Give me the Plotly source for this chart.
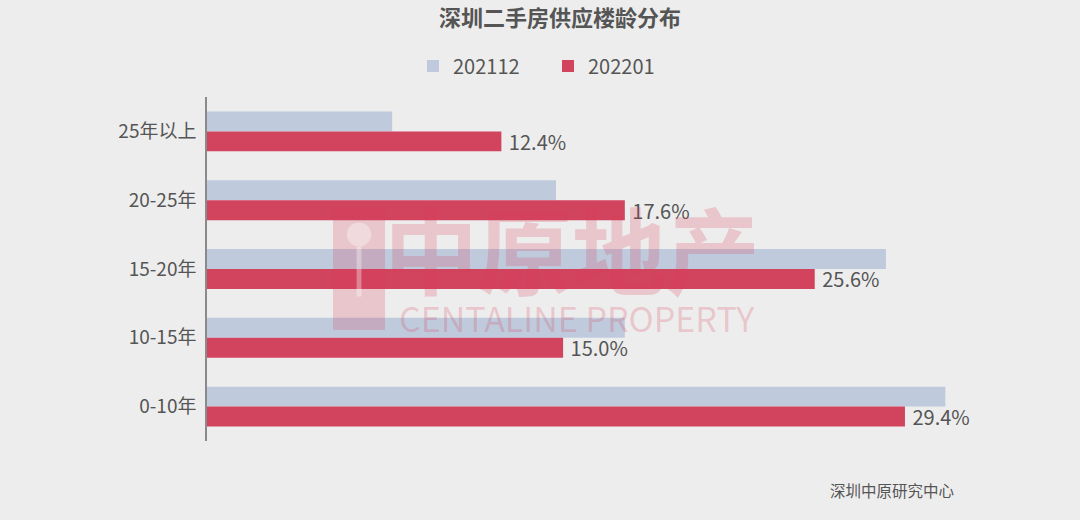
import plotly.graph_objects as go

categories = ["25年以上", "20-25年", "15-20年", "10-15年", "0-10年"]
series_names = ["202112", "202201"]
values_202112 = [7.8, 14.7, 28.6, 17.6, 31.1]
values_202201 = [12.4, 17.6, 25.6, 15.0, 29.4]

FONT = "Noto Sans CJK SC, Noto Sans, sans-serif"
BG = "#EDEDED"
BLUE = "#BFCBDD"
RED = "#D2435E"
TXT = "#555555"
WM = "rgba(215,60,85,0.22)"

fig = go.Figure()
fig.add_trace(go.Bar(
    y=categories, x=values_202112, name=series_names[0], orientation="h",
    marker=dict(color=BLUE, line=dict(width=0)),
))
fig.add_trace(go.Bar(
    y=categories, x=values_202201, name=series_names[1], orientation="h",
    marker=dict(color=RED, line=dict(width=0)),
    text=[f"{v:.1f}%" for v in values_202201], texttemplate=" %{text}",
    textposition="outside", constraintext="none",
    textfont=dict(family=FONT, size=20, color=TXT), cliponaxis=False,
))

fig.update_layout(
    width=1080, height=520,
    paper_bgcolor=BG, plot_bgcolor=BG,
    margin=dict(l=207, r=60, t=97, b=79),
    barmode="group", bargap=0.42, bargroupgap=0,
    title=dict(text="<b>深圳二手房供应楼龄分布</b>", x=560 / 1080, xanchor="center",
               y=1 - 18 / 520, yanchor="middle",
               font=dict(family=FONT, size=22, color=TXT)),
    legend=dict(orientation="h", x=(413 - 207) / 813, xanchor="left", y=1.09, yanchor="middle",
                font=dict(family=FONT, size=20, color=TXT), bgcolor="rgba(0,0,0,0)",
                itemwidth=30, entrywidth=90),
    xaxis=dict(range=[0, 813 / 23.74], showticklabels=False, showgrid=False,
               zeroline=False, ticks=""),
    yaxis=dict(autorange="reversed", showline=True, linecolor="#8A8A8A", linewidth=1.5,
               ticks="", ticklabelstandoff=5,
               tickfont=dict(family=FONT, size=19, color=TXT), showgrid=False),
    showlegend=True,
)

# watermark (logo block drawn with shapes, wordmark as text)
fig.add_shape(type="rect", xref="paper", yref="paper", x0=0.155, x1=0.219, y0=0.323, y1=0.677,
              fillcolor=WM, line=dict(width=0), layer="above")
fig.add_shape(type="circle", xref="paper", yref="paper", x0=0.172, x1=0.202, y0=0.565, y1=0.635,
              fillcolor="rgba(255,255,255,0.35)", line=dict(width=0), layer="above")
fig.add_shape(type="rect", xref="paper", yref="paper", x0=0.184, x1=0.190, y0=0.42, y1=0.565,
              fillcolor="rgba(255,255,255,0.35)", line=dict(width=0), layer="above")
fig.add_annotation(text="<b>中原地产</b>", xref="paper", yref="paper", x=0.449, y=0.565,
                   showarrow=False, font=dict(family=FONT, size=94, color=WM))
fig.add_annotation(text="CENTALINE PROPERTY", xref="paper", yref="paper", x=0.455, y=0.358,
                   showarrow=False, font=dict(family=FONT, size=34, color=WM))

# source
fig.add_annotation(text="深圳中原研究中心", xref="paper", yref="paper", x=(828 - 207) / 813,
                   xanchor="left", y=(441 - 490) / 344, yanchor="middle", showarrow=False,
                   font=dict(family=FONT, size=15.5, color=TXT))

fig.write_html("out.html", config={"displayModeBar": False},
               post_script="document.body.style.margin='0';")
